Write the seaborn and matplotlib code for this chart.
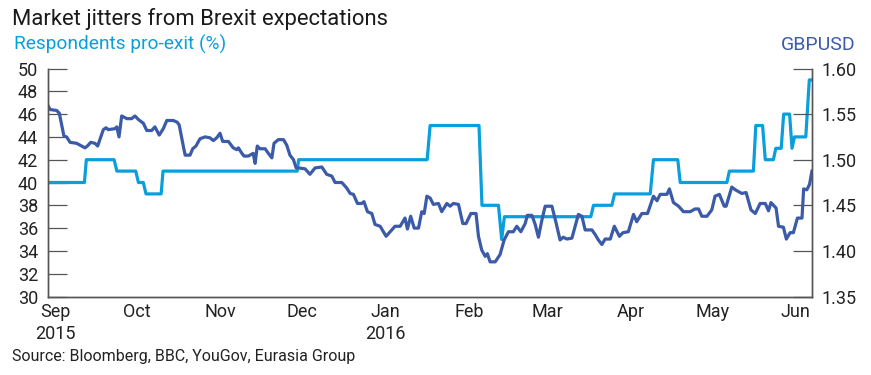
import pandas as pd
import seaborn as sns
import numpy as np
import matplotlib.pyplot as plt

# days counted from 29 Aug 2015
start = pd.Timestamp('2015-08-29')
end_days = 283

poll_days = [0, 13.6, 14.3, 24.6, 25.6, 32.6, 33.6, 35.4, 36.4, 42.0, 42.7, 92.4, 92.9,
             140.5, 141.6, 159.7, 160.8, 166.9, 168.1, 169.1, 201.1, 202.1, 208.9, 209.9,
             223.1, 224.3, 233.3, 234.2, 251.5, 252.4, 261.3, 262.2, 264.7, 265.7, 268.7,
             269.6, 271.6, 272.5, 274.7, 275.6, 276.5, 280.7, 282.0, 283.0]
poll_pct = [40, 40, 42, 42, 41, 41, 40, 40, 39, 39, 41, 41, 42, 42, 45, 45, 38, 38, 35, 37,
            37, 38, 38, 39, 39, 42, 42, 40, 40, 41, 41, 45, 45, 42, 42, 43, 43, 46, 46, 43,
            44, 44, 49, 49]

fx_days = [0, 0.9, 3.3, 4.3, 6.0, 7.0, 8.3, 10.7, 12.6, 13.8, 14.7, 15.9, 17.5, 18.5, 20.6,
           21.6, 22.4, 24.9, 25.6, 26.4, 27.4, 29.3, 31.1, 32.3, 33.6, 35.4, 36.7, 38.5, 39.7,
           41.3, 42.8, 44.1, 46.5, 48.0, 48.7, 50.2, 50.9, 52.7, 53.7, 54.9, 56.4, 58.3, 60.1,
           61.3, 62.6, 63.8, 64.8, 66.9, 68.7, 70.0, 70.6, 71.9, 72.7, 74.3, 76.1, 76.8, 77.6,
           78.6, 80.5, 81.7, 83.0, 83.8, 85.4, 87.3, 88.5, 89.7, 91.0, 92.0, 92.8, 95.3, 97.1,
           99.0, 101.5, 103.3, 105.2, 106.4, 108.9, 110.7, 112.0, 113.2, 114.7, 116.3, 117.1,
           118.4, 120.0, 121.2, 123.1, 125.3, 126.8, 128.6, 130.5, 132.3, 133.2, 134.4, 135.7,
           137.3, 138.5, 139.4, 140.4, 141.6, 142.8, 144.7, 145.9, 147.8, 149.0, 150.2, 152.1,
           153.7, 154.9, 156.7, 158.6, 159.5, 160.7, 162.0, 162.8, 163.8, 165.7, 167.5, 169.0,
           170.6, 172.4, 173.7, 175.2, 176.8, 177.6, 179.3, 180.5, 181.7, 183.0, 184.2, 186.7,
           188.3, 189.7, 190.9, 192.2, 194.1, 195.3, 196.5, 197.8, 199.0, 201.5, 202.7, 203.9,
           205.2, 206.4, 208.3, 209.8, 211.7, 213.0, 215.0, 216.9, 218.1, 220.0, 222.1, 224.3,
           225.6, 226.8, 229.3, 230.2, 231.7, 233.6, 235.4, 237.9, 239.7, 241.0, 242.2, 244.1,
           245.9, 247.1, 248.7, 250.5, 251.2, 253.3, 254.6, 257.0, 258.6, 260.4, 262.0, 263.8,
           265.7, 266.9, 267.8, 269.7, 270.6, 272.4, 273.5, 274.9, 276.1, 277.6, 279.3, 279.9,
           281.1, 282.1, 283.0]
fx_rate = [1.560, 1.555, 1.554, 1.551, 1.526, 1.525, 1.519, 1.518, 1.515, 1.513, 1.515, 1.519,
           1.518, 1.515, 1.533, 1.535, 1.533, 1.534, 1.536, 1.525, 1.548, 1.545, 1.545, 1.548,
           1.544, 1.540, 1.532, 1.532, 1.536, 1.527, 1.534, 1.543, 1.543, 1.541, 1.538, 1.515,
           1.505, 1.505, 1.512, 1.515, 1.523, 1.525, 1.524, 1.521, 1.524, 1.529, 1.520, 1.520,
           1.513, 1.511, 1.513, 1.507, 1.504, 1.504, 1.507, 1.496, 1.515, 1.512, 1.512, 1.507,
           1.502, 1.518, 1.522, 1.522, 1.516, 1.505, 1.500, 1.491, 1.491, 1.490, 1.484, 1.491,
           1.492, 1.484, 1.482, 1.475, 1.475, 1.469, 1.463, 1.462, 1.452, 1.452, 1.454, 1.443,
           1.441, 1.429, 1.427, 1.416, 1.421, 1.427, 1.427, 1.436, 1.424, 1.438, 1.425, 1.425,
           1.443, 1.441, 1.460, 1.458, 1.451, 1.452, 1.443, 1.452, 1.449, 1.452, 1.451, 1.430,
           1.430, 1.441, 1.441, 1.416, 1.401, 1.394, 1.397, 1.388, 1.388, 1.396, 1.412, 1.421,
           1.421, 1.427, 1.421, 1.430, 1.439, 1.439, 1.429, 1.415, 1.434, 1.449, 1.449, 1.430,
           1.412, 1.415, 1.413, 1.414, 1.427, 1.440, 1.438, 1.423, 1.423, 1.418, 1.412, 1.407,
           1.413, 1.413, 1.427, 1.416, 1.420, 1.421, 1.440, 1.432, 1.441, 1.441, 1.460, 1.455,
           1.462, 1.462, 1.468, 1.453, 1.449, 1.443, 1.443, 1.446, 1.446, 1.438, 1.438, 1.445,
           1.460, 1.462, 1.449, 1.449, 1.470, 1.467, 1.463, 1.464, 1.445, 1.441, 1.452, 1.452,
           1.444, 1.453, 1.447, 1.427, 1.426, 1.413, 1.420, 1.420, 1.436, 1.436, 1.468, 1.467,
           1.473, 1.488]

month_labels = ['Sep\n2015', 'Oct', 'Nov', 'Dec', 'Jan\n2016', 'Feb', 'Mar', 'Apr', 'May', 'Jun']
left_ticks = [30, 32, 34, 36, 38, 40, 42, 44, 46, 48, 50]
right_ticks = [1.35, 1.40, 1.45, 1.50, 1.55, 1.60]

light = '#0a9fdc'
dark = '#3b5ba8'
axis_col = '#555555'

polls = pd.DataFrame({'date': start + pd.to_timedelta(poll_days, unit='D'), 'pct': poll_pct})
fx = pd.DataFrame({'date': start + pd.to_timedelta(fx_days, unit='D'), 'rate': fx_rate})

sns.set_style('white')
plt.rcParams['font.family'] = ['Roboto', 'DejaVu Sans']

fig = plt.figure(figsize=(8.71, 3.75), dpi=100)
ax = fig.add_axes([47.7 / 871, 1 - 296.5 / 375, (812 - 47.7) / 871, (296.5 - 68.5) / 375])
ax2 = ax.twinx()

sns.lineplot(data=polls, x='date', y='pct', ax=ax, color=light, lw=2.3, estimator=None)
sns.lineplot(data=fx, x='date', y='rate', ax=ax2, color=dark, lw=2.3, estimator=None)

ax.set_xlim(start, start + pd.Timedelta(days=end_days))
ax.set_ylim(30, 50)
ax2.set_ylim(1.35, 1.60)
ax.set_yticks(left_ticks)
ax2.set_yticks(right_ticks)
ax2.set_yticklabels([f'{v:.2f}' for v in right_ticks])
ax.set_xticks(pd.date_range('2015-09-01', '2016-06-01', freq='MS'))
ax.set_xticklabels(month_labels, linespacing=1.25)

for a in (ax, ax2):
    a.set_xlabel('')
    a.set_ylabel('')
    for s in a.spines.values():
        s.set_color(axis_col)
        s.set_linewidth(1)
    a.spines['top'].set_visible(False)

ax.tick_params(axis='y', direction='in', length=13.5, width=0.9, color=axis_col,
               labelsize=13, pad=7, labelcolor='#222222')
ax2.tick_params(axis='y', direction='in', length=13.5, width=0.9, color=axis_col,
                labelsize=13, pad=7, labelcolor='#222222')
ax.tick_params(axis='x', length=0, labelsize=13, pad=5, labelcolor='#222222')

fig.text(12 / 871, 1 - 25 / 375, 'Market jitters from Brexit expectations', fontsize=15.8,
         color='#1a1a1a', va='baseline')
fig.text(14 / 871, 1 - 50 / 375, 'Respondents pro-exit (%)', fontsize=13.8, color=light,
         va='baseline')
fig.text(855 / 871, 1 - 50 / 375, 'GBPUSD', fontsize=14, color=dark, va='baseline', ha='right')
fig.text(12 / 871, 1 - 361 / 375, 'Source: Bloomberg, BBC, YouGov, Eurasia Group', fontsize=11.5,
         color='#222222', va='baseline')

fig.savefig('out.png', dpi=100)
